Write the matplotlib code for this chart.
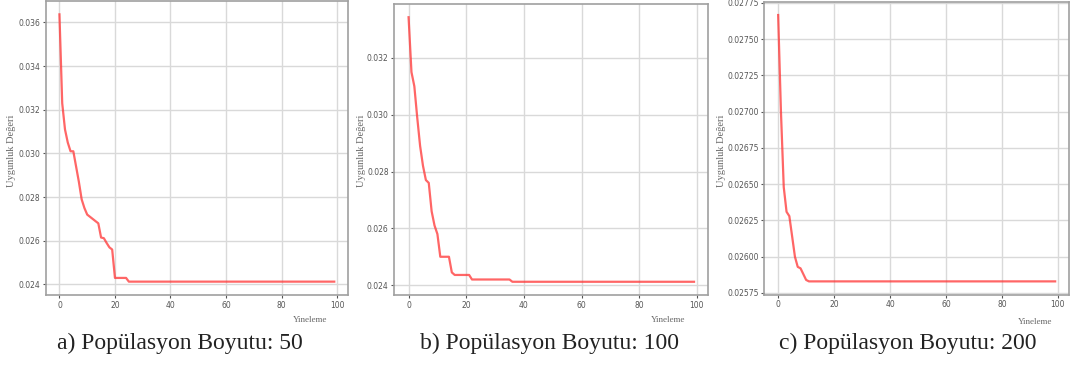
import matplotlib
matplotlib.use("Agg")
import matplotlib.pyplot as plt
from matplotlib.ticker import ScalarFormatter

W, H = 1083, 367

iters = list(range(100))

fit_50 = [0.03637, 0.0323, 0.0311, 0.0305, 0.0301, 0.0301, 0.0294, 0.0287, 0.0279, 0.0275,
          0.0272, 0.0271, 0.0270, 0.0269, 0.0268, 0.02615, 0.02612, 0.0259, 0.0257, 0.0256,
          0.0243, 0.0243, 0.0243, 0.0243, 0.0243] + [0.02413] * 75

fit_100 = [0.03343, 0.0315, 0.0310, 0.0299, 0.0289, 0.0282, 0.0277, 0.0276, 0.0266, 0.0261,
           0.0258, 0.0250, 0.0250, 0.0250, 0.0250, 0.02445] + [0.02436] * 6 + [0.0242] * 14 + [0.02412] * 64

fit_200 = [0.027667, 0.0270, 0.02648, 0.02631, 0.02628, 0.02614, 0.02600, 0.02593, 0.02592, 0.02588,
           0.02584] + [0.02583] * 89

series = [fit_50, fit_100, fit_200]
captions = ["a) Popülasyon Boyutu: 50", "b) Popülasyon Boyutu: 100", "c) Popülasyon Boyutu: 200"]
y_label = "Uygunluk Değeri"
x_label = "Yineleme"
x_ticks = [0, 20, 40, 60, 80, 100]

# axes boxes in pixels: left, right, top, bottom
boxes = [(45.7, 348, 1, 295), (394.3, 708.3, 4, 295), (764.3, 1069, 1.7, 294.7)]
ylab_x = [12, 362, 722]
xlab_pos = [(310, 320), (668, 320), (1035, 322)]
cap_x = [180, 550, 908]

fig = plt.figure(figsize=(W / 100, H / 100), dpi=100)
fig.patch.set_facecolor("white")

for i, (data, box) in enumerate(zip(series, boxes)):
    l, r, t, b = box
    ax = fig.add_axes([l / W, 1 - b / H, (r - l) / W, (b - t) / H])
    ax.plot(iters[:len(data)], data, color="#ff3333", alpha=0.75, lw=1.6)
    ax.set_xticks(x_ticks)
    ax.grid(True, color="#d9d9d9", lw=1.0)
    ax.set_axisbelow(True)
    for s in ax.spines.values():
        s.set_color("#a0a0a0")
        s.set_linewidth(1.2)
    ax.tick_params(labelsize=5.5, colors="#555555", length=2, width=0.8, pad=2)
    fmt = ScalarFormatter(useOffset=False)
    ax.yaxis.set_major_formatter(fmt)
    fig.text(ylab_x[i] / W, 1 - 151 / H, y_label, rotation=90,
             ha="center", va="center", fontsize=7.5, family="Liberation Serif", color="#666666")
    fig.text(xlab_pos[i][0] / W, 1 - xlab_pos[i][1] / H, x_label, ha="center", va="center",
             fontsize=6.5, family="Liberation Serif", color="#666666")
    fig.text(cap_x[i] / W, 1 - 343 / H, captions[i], ha="center", va="center",
             fontsize=17, family="Liberation Serif", color="#222222")

fig.savefig("out.png", dpi=100, facecolor="white")
